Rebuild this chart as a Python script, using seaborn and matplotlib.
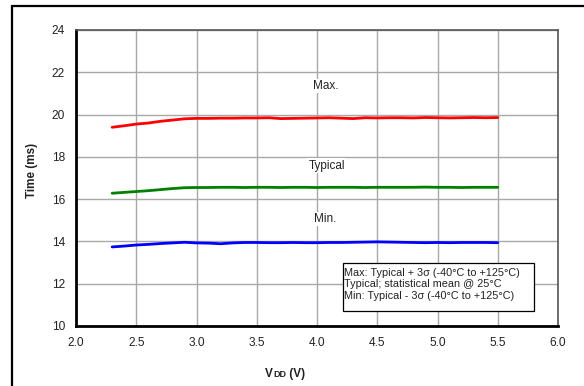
import numpy as np
import pandas as pd
import matplotlib
matplotlib.use("Agg")
import matplotlib.pyplot as plt
import matplotlib.patches as mpatches
import seaborn as sns

# supply voltage (V)
vdd = [2.3, 2.4, 2.5, 2.6, 2.7, 2.8, 2.9, 3.0, 3.1, 3.2, 3.3, 3.4, 3.5, 3.6, 3.7, 3.8, 3.9,
       4.0, 4.1, 4.2, 4.3, 4.4, 4.5, 4.6, 4.7, 4.8, 4.9, 5.0, 5.1, 5.2, 5.3, 5.4, 5.5]

# time (ms)
max_time = [19.40, 19.47, 19.55, 19.60, 19.68, 19.74, 19.80, 19.82, 19.82, 19.83, 19.83,
            19.84, 19.84, 19.85, 19.81, 19.82, 19.83, 19.84, 19.85, 19.83, 19.81, 19.85,
            19.84, 19.85, 19.85, 19.84, 19.86, 19.85, 19.84, 19.85, 19.86, 19.85, 19.86]
typ_time = [16.28, 16.32, 16.36, 16.40, 16.45, 16.50, 16.54, 16.55, 16.55, 16.56, 16.56,
            16.55, 16.56, 16.56, 16.55, 16.56, 16.56, 16.55, 16.56, 16.56, 16.56, 16.55,
            16.56, 16.56, 16.56, 16.56, 16.57, 16.56, 16.56, 16.55, 16.56, 16.56, 16.56]
min_time = [13.74, 13.78, 13.83, 13.86, 13.90, 13.93, 13.96, 13.93, 13.92, 13.89, 13.93,
            13.95, 13.95, 13.94, 13.94, 13.95, 13.94, 13.94, 13.95, 13.95, 13.96, 13.97,
            13.98, 13.97, 13.96, 13.95, 13.94, 13.95, 13.94, 13.95, 13.95, 13.95, 13.94]

series_names = ["Max.", "Typical", "Min."]
series_colors = ["#ff0000", "#008000", "#0000ff"]
label_pos = [(4.07, 21.35), (4.08, 17.58), (4.07, 15.06)]

x_ticks = [2.0, 2.5, 3.0, 3.5, 4.0, 4.5, 5.0, 5.5, 6.0]
y_ticks = [10, 12, 14, 16, 18, 20, 22, 24]

note_lines = ["Max: Typical + 3\u03c3 (-40\u00b0C to +125\u00b0C)",
              "Typical; statistical mean @ 25\u00b0C",
              "Min: Typical - 3\u03c3 (-40\u00b0C to +125\u00b0C)"]

# x title pieces: "V", small-caps "DD", " (V)"
xlabel_parts = [("V", 8.5), ("DD", 6.5), (" (V)", 8.5)]

df = pd.DataFrame({
    "vdd": vdd * 3,
    "time": max_time + typ_time + min_time,
    "series": [s for s in series_names for _ in vdd],
})

sns.set_style("white")
plt.rcParams["font.family"] = ["Liberation Sans", "DejaVu Sans"]
plt.rcParams["text.color"] = "#222222"

fig = plt.figure(figsize=(5.84, 3.86), dpi=100)
ax = fig.add_axes([76 / 584, 1 - 326 / 386, (558 - 76) / 584, (326 - 30) / 386])

sns.lineplot(data=df, x="vdd", y="time", hue="series", hue_order=series_names,
             palette=series_colors, linewidth=2.0, legend=False, ax=ax, zorder=3)

ax.set_xlim(2.0, 6.0)
ax.set_ylim(10, 24)
ax.set_xticks(x_ticks)
ax.set_xticklabels([f"{t:.1f}" for t in x_ticks])
ax.set_yticks(y_ticks)
ax.set_yticklabels([str(t) for t in y_ticks])
ax.tick_params(axis="both", length=0, labelsize=8.6, colors="#222222")
ax.tick_params(axis="x", pad=8)
ax.tick_params(axis="y", pad=8)
ax.grid(True, color="#a8a8a8", linewidth=1.0)
ax.set_axisbelow(True)
ax.set_xlabel("")
ax.set_ylabel("")

for side in ["left", "bottom"]:
    ax.spines[side].set_color("black")
    ax.spines[side].set_linewidth(2.0)
for side in ["top", "right"]:
    ax.spines[side].set_color("#555555")
    ax.spines[side].set_linewidth(1.2)

for name, (lx, ly) in zip(series_names, label_pos):
    ax.text(lx, ly, name, ha="center", va="center", fontsize=8.5, zorder=4,
            bbox=dict(facecolor="white", edgecolor="none", pad=1.0))

# note box
ax.add_patch(mpatches.Rectangle((4.213, 10.71), 5.801 - 4.213, 12.98 - 10.71,
                                facecolor="white", edgecolor="black", linewidth=0.9,
                                zorder=5))
ax.text(4.228, 11.97, "\n".join(note_lines), ha="left", va="center", fontsize=7.8,
        linespacing=1.23, zorder=6)

# axis titles
fig.text(31.5 / 584, 1 - 170.5 / 386, "Time (ms)", rotation=90, ha="center", va="center",
         fontsize=8.4, fontweight="bold")

renderer = fig.canvas.get_renderer()
x_px = 265.0
for txt, size in xlabel_parts:
    t = fig.text(x_px / 584, 1 - 377 / 386, txt, ha="left", va="baseline",
                 fontsize=size, fontweight="bold")
    x_px += t.get_window_extent(renderer=renderer).width

# outer frame running off the right and bottom edges
fig.patches.append(mpatches.Rectangle((12 / 584, -0.2), 1.2, 1.2 - 5.5 / 386,
                                      transform=fig.transFigure, fill=False,
                                      edgecolor="black", linewidth=1.6))

fig.savefig("out.png", dpi=100)
